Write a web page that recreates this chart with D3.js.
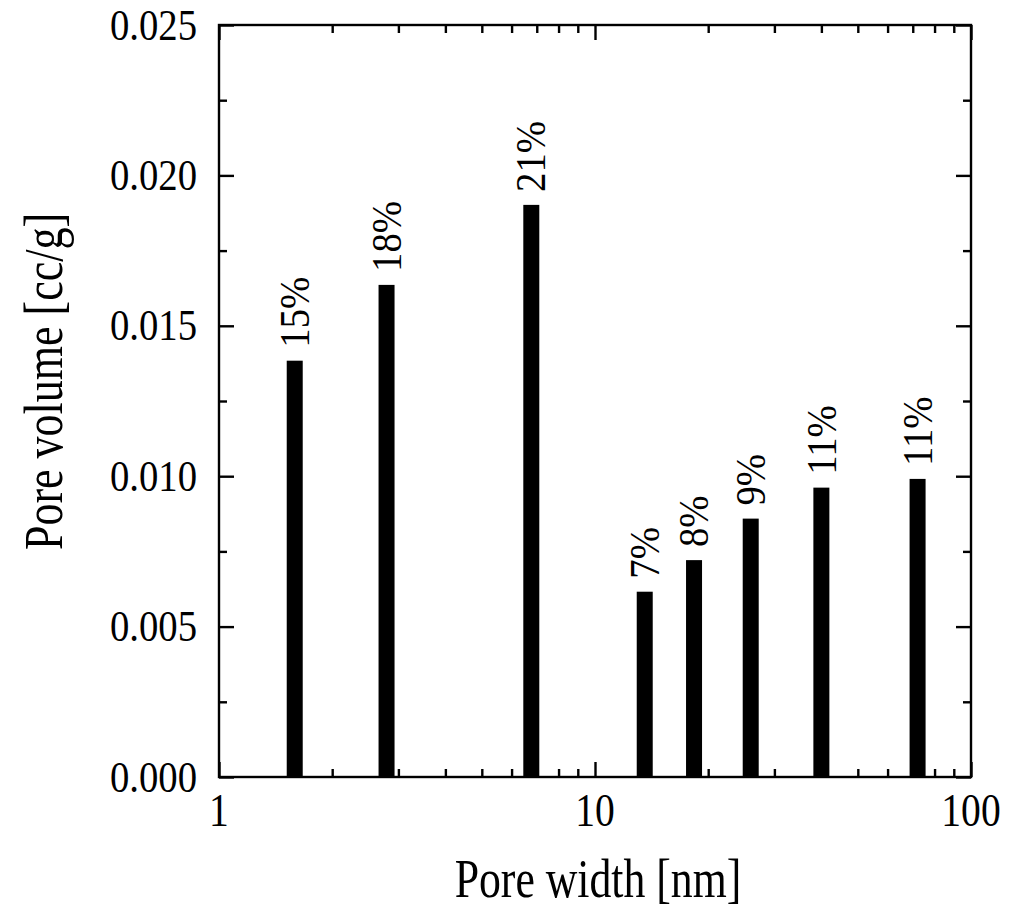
<!DOCTYPE html>
<html>
<head>
<meta charset="utf-8">
<script src="https://cdn.jsdelivr.net/npm/d3@7"></script>
<style>
  html, body { margin: 0; padding: 0; background: #fff; }
  svg { display: block; }
  text { font-family: "Liberation Serif", "Times New Roman", serif; fill: #000; }
</style>
</head>
<body>
<svg id="chart" width="1023" height="910"></svg>
<script>
// Data
const poreWidth = [1.59, 2.79, 6.77, 13.56, 18.34, 25.95, 40.0, 72.1];
const poreVolume = [0.01384, 0.01636, 0.01902, 0.00616, 0.00721, 0.00859, 0.00962, 0.00991];
const percentLabels = ["15%", "18%", "21%", "7%", "8%", "9%", "11%", "11%"];
const xMajorTicks = [1, 10, 100];
const xMinorTicks = [2, 3, 4, 5, 6, 7, 8, 9, 20, 30, 40, 50, 60, 70, 80, 90];
const yMajorTicks = [0, 0.005, 0.010, 0.015, 0.020, 0.025];
const yMinorTicks = [0.0025, 0.0075, 0.0125, 0.0175, 0.0225];
const xTitle = "Pore width [nm]";
const yTitle = "Pore volume [cc/g]";

const svg = d3.select("#chart");
const L = 219, R = 971, T = 25, B = 777;
const x = d3.scaleLog().domain([1, 100]).range([L, R]);
const y = d3.scaleLinear().domain([0, 0.025]).range([B, T]);

const SW = 2.4;

// bars
svg.append("g").selectAll("rect").data(poreWidth).join("rect")
  .attr("x", (d) => x(d) - 8)
  .attr("width", 16)
  .attr("y", (d, i) => y(poreVolume[i]))
  .attr("height", (d, i) => y(0) - y(poreVolume[i]))
  .attr("fill", "#000");

function styleAxis(g) {
  g.selectAll(".domain").remove();
  g.selectAll(".tick line").attr("stroke", "#000").attr("stroke-width", SW);
  g.selectAll(".tick text").remove();
}

// x axes (bottom & top), ticks inward
svg.append("g").attr("transform", `translate(0,${B})`)
  .call(d3.axisBottom(x).tickValues(xMajorTicks).tickSize(-15)).call(styleAxis);
svg.append("g").attr("transform", `translate(0,${B})`)
  .call(d3.axisBottom(x).tickValues(xMinorTicks).tickSize(-8)).call(styleAxis);
svg.append("g").attr("transform", `translate(0,${T})`)
  .call(d3.axisTop(x).tickValues(xMajorTicks).tickSize(-15)).call(styleAxis);
svg.append("g").attr("transform", `translate(0,${T})`)
  .call(d3.axisTop(x).tickValues(xMinorTicks).tickSize(-8)).call(styleAxis);

// y axes (left & right)
svg.append("g").attr("transform", `translate(${L},0)`)
  .call(d3.axisLeft(y).tickValues(yMajorTicks).tickSize(-15)).call(styleAxis);
svg.append("g").attr("transform", `translate(${L},0)`)
  .call(d3.axisLeft(y).tickValues(yMinorTicks).tickSize(-8)).call(styleAxis);
svg.append("g").attr("transform", `translate(${R},0)`)
  .call(d3.axisRight(y).tickValues(yMajorTicks).tickSize(-15)).call(styleAxis);
svg.append("g").attr("transform", `translate(${R},0)`)
  .call(d3.axisRight(y).tickValues(yMinorTicks).tickSize(-8)).call(styleAxis);

// frame
svg.append("rect").attr("x", L).attr("y", T).attr("width", R - L).attr("height", B - T)
  .attr("fill", "none").attr("stroke", "#000").attr("stroke-width", SW);

// tick labels
svg.append("g").selectAll("text").data(yMajorTicks).join("text")
  .attr("transform", (d) => `translate(197,${y(d) + 14.5}) scale(0.88,1)`)
  .attr("text-anchor", "end")
  .style("font-size", "44px")
  .text((d) => d3.format(".3f")(d));

svg.append("g").selectAll("text").data(xMajorTicks).join("text")
  .attr("transform", (d) => `translate(${x(d)},826) scale(0.86,1)`)
  .attr("text-anchor", "middle")
  .style("font-size", "46px")
  .text((d) => String(d));

// axis titles
svg.append("text")
  .attr("transform", `translate(598,897) scale(0.81,1)`)
  .attr("text-anchor", "middle").style("font-size", "54px").text(xTitle);
svg.append("text")
  .attr("transform", `translate(62,381.5) rotate(-90) scale(0.8,1)`)
  .attr("text-anchor", "middle").style("font-size", "55px").text(yTitle);

// bar labels
svg.append("g").selectAll("text").data(poreWidth).join("text")
  .attr("transform", (d, i) => `translate(${x(d)},${y(poreVolume[i]) - 13}) rotate(-90) scale(0.9,1)`)
  .attr("text-anchor", "start").attr("dy", "0.33em")
  .style("font-size", "43px")
  .text((d, i) => percentLabels[i]);
</script>
</body>
</html>
